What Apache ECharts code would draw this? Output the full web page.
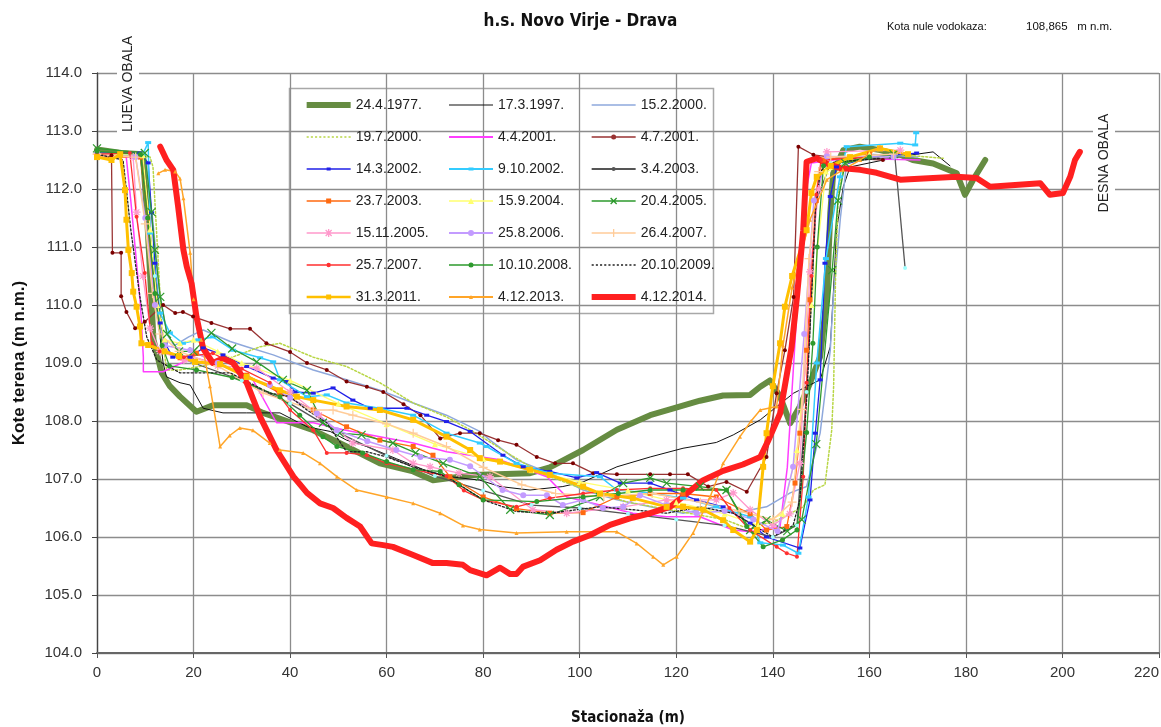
<!DOCTYPE html>
<html><head><meta charset="utf-8">
<script src="https://cdn.jsdelivr.net/npm/echarts@6/dist/echarts.min.js"></script>
<style>html,body{margin:0;padding:0;background:#fff}#c{width:1161px;height:727px}</style>
</head><body><div id="c"></div>
<script>
const names = ['24.4.1977.','17.3.1997.','15.2.2000.','19.7.2000.','4.4.2001.','4.7.2001.','14.3.2002.','9.10.2002.','3.4.2003.','23.7.2003.','15.9.2004.','20.4.2005.','15.11.2005.','25.8.2006.','26.4.2007.','25.7.2007.','10.10.2008.','20.10.2009.','31.3.2011.','4.12.2013.','4.12.2014.'];

const d1977 = [[0,112.68],[5,112.62],[9.5,112.6],[10.4,111.5],[11.7,109.4],[13.4,108.83],[15.1,108.6],[17.2,108.42],[20.6,108.16],[24,108.27],[31,108.27],[34.4,108.14],[44.8,107.84],[51.7,107.56],[58.6,107.27],[65.5,107.13],[69.6,106.98],[77.9,107.07],[89.7,107.1],[93.8,107.2],[100.7,107.5],[107.7,107.85],[114.6,108.1],[118.7,108.2],[124.9,108.35],[129.7,108.44],[135.3,108.45],[137.4,108.59],[139.4,108.7],[141.5,108.42],[143.6,107.96],[145.6,108.25],[147.7,108.65],[149.8,109.11],[151.2,110.14],[151.9,111.58],[152.5,112.27],[154.6,112.67],[158,112.73],[162.2,112.67],[166.4,112.59],[169,112.5],[173.2,112.44],[178.1,112.27],[179.8,111.9],[181.5,112.16],[184,112.5]];
const d1997 = [[0,112.62],[9.5,112.58],[10.5,111.8],[12,110.2],[13.7,109.0],[14.4,108.76],[17.2,108.66],[19.3,108.62],[22,108.22],[26.1,108.14],[31,108.14],[37.9,108.14],[43.5,107.9],[48.3,107.82],[51.7,107.67],[55.9,107.56],[62,107.35],[68,107.15],[73.1,107.04],[79.3,106.98],[83.5,106.87],[89.7,106.81],[96.5,106.87],[100.7,106.95],[107.7,107.21],[114.6,107.38],[121.4,107.53],[128.3,107.63],[131.8,107.76],[137.4,108.02],[144.3,108.48],[149.8,108.71],[151.9,109.28],[152.5,110.14],[153.2,111.29],[154.6,112.04],[156,112.38],[166.4,112.56],[173.2,112.64],[176.7,112.4]];
const d2000a = [[0,112.62],[10,112.58],[11.5,111.5],[13,110.2],[14.5,109.5],[16,109.3],[19,109.45],[22,109.57],[27.6,109.37],[31,109.28],[36.5,109.14],[44.8,108.88],[51.7,108.71],[58.6,108.53],[65.5,108.31],[72.4,108.1],[79.3,107.82],[81.4,107.67],[86.9,107.33],[93.8,107.1],[100.7,106.81],[107.7,106.64],[114.6,106.52],[121.4,106.41],[124.9,106.47],[128.3,106.52],[131.8,106.41],[138.7,106.52],[143.6,106.76],[147,106.87],[149.8,107.79],[151.9,109.22],[152.5,110.09],[154,111.5],[155.3,112.45],[160,112.6],[170,112.55]];
const d2000b = [[0,112.6],[11,112.55],[11.6,112.38],[12.7,110.72],[13.5,109.5],[14.4,108.88],[17.2,108.88],[22,108.95],[28,109.1],[33.8,109.28],[37.9,109.34],[44.8,109.1],[51.7,108.94],[58.6,108.66],[65.5,108.31],[72.4,108.07],[77.9,107.82],[85,107.45],[92,107.1],[100,106.85],[110,106.6],[120,106.45],[130,106.3],[133.8,106.18],[140,106.25],[146.3,106.52],[148.4,106.81],[150.8,106.9],[152.2,107.84],[152.6,108.6],[153,110.5],[153.6,111.98],[155,112.45],[165,112.6],[175.3,112.53]];
const d2001a = [[0,112.6],[6,112.6],[7,111.8],[9,110.0],[9.6,109.1],[9.6,108.85],[13.7,108.85],[20,109.1],[26,108.95],[32.3,108.71],[37.2,107.97],[44.8,107.97],[51,107.85],[58.6,107.73],[65.5,107.62],[72.4,107.47],[83.5,107.33],[93.2,107.04],[97.3,106.69],[104.2,106.55],[111,106.41],[118,106.35],[124.9,106.35],[131.8,106.12],[135.3,106.09],[141.5,106.18],[143,107.2],[145,109.91],[146.5,111.8],[148,112.45],[155.3,112.53],[170.5,112.5]];
const d2001b = [[0,112.6],[3,112.58],[3.2,110.9],[5,110.9],[5,110.15],[6.1,109.88],[7.9,109.6],[9.9,109.71],[13.7,110.0],[16.2,109.86],[17.8,109.88],[19.9,109.8],[23.7,109.69],[27.6,109.59],[31.7,109.59],[35.1,109.34],[40,109.19],[43.5,109.0],[47.6,108.88],[51.7,108.68],[55.9,108.59],[59.3,108.5],[63.5,108.29],[67,108.1],[71.1,107.7],[75.2,107.79],[79.3,107.79],[83.1,107.67],[86.9,107.59],[91.1,107.38],[94.9,107.27],[98.6,107.27],[102.8,107.1],[107.7,107.08],[114.6,107.08],[118.7,107.08],[122.4,107.08],[126.6,106.87],[130.4,106.95],[134.6,106.78],[138.7,107.38],[140.8,108.48],[142.5,109.22],[144.3,110.14],[145.3,112.73],[148.4,112.59],[151.2,112.56],[162.8,112.5]];
const d2002a = [[0,112.62],[8.9,112.62],[10.6,112.45],[11.3,111.59],[12,110.72],[13.1,109.69],[14.1,109.34],[15.7,109.1],[19.3,109.1],[22,109.26],[26.1,109.14],[31,108.94],[36.5,108.74],[39.3,108.68],[41,108.5],[44.8,108.48],[48.9,108.57],[53,108.36],[56.6,108.22],[64.2,108.22],[68.3,108.1],[72.4,107.99],[77.3,107.82],[84.1,107.41],[88.3,107.21],[93.8,107.13],[99.4,107.02],[103.5,107.11],[108.4,106.93],[114.6,106.93],[118.7,106.81],[124.2,106.64],[129.7,106.52],[135.3,106.24],[138.7,106.0],[145.6,105.81],[147.7,106.64],[148.8,107.79],[149.8,108.71],[150.8,110.72],[151.9,111.87],[153.2,112.38],[160,112.55],[169.8,112.62]];
const d2002b = [[0,112.6],[9.5,112.6],[10.6,112.8],[11,111.24],[13.1,109.86],[15.1,109.52],[17.8,109.34],[21,109.4],[24,109.45],[28.2,109.22],[33.8,109.09],[36.5,109.02],[37.9,108.71],[43.5,108.42],[47.6,108.45],[51.7,108.31],[58.6,108.22],[65.5,108.1],[72.4,107.79],[79.3,107.62],[80.7,107.56],[86.9,107.27],[93.8,107.1],[104.2,107.04],[107.7,106.81],[114.6,106.76],[121.4,106.67],[128.3,106.52],[135.3,106.35],[137.4,105.9],[142.1,105.86],[145.3,105.72],[147.4,106.69],[149.1,109.0],[151,110.8],[153.9,112.21],[155.3,112.73],[166.4,112.79],[169.5,112.76],[169.7,112.97]];
const d2003a = [[0,112.6],[9,112.55],[12,110.5],[14,109.2],[20,109.0],[30,108.7],[40,108.3],[50,107.8],[60,107.4],[70,107.05],[80,106.8],[90,106.55],[100,106.5],[110,106.4],[120,106.3],[130,106.2],[140,106.0],[145,106.2],[147,108.5],[149,111.8],[152,112.45],[165.3,112.55],[167.4,110.64]];
const d2003b = [[0,112.55],[9,112.55],[10.5,111.5],[12,110.0],[14,109.2],[17.2,109.09],[20.6,109.17],[25,109.0],[31,108.79],[37.9,108.48],[44.8,108.19],[51.7,107.9],[58.6,107.67],[65.5,107.56],[69.6,107.41],[73.1,107.04],[80,106.69],[86.9,106.49],[93.8,106.41],[100.7,106.42],[107.7,106.69],[114.6,106.75],[121.4,106.75],[128.3,106.69],[135.3,106.4],[138.7,106.12],[142.9,106.18],[144.6,106.93],[145.6,107.79],[147,109.22],[147.7,110.09],[149,111.8],[150.5,112.5],[160,112.6]];
const d2004 = [[0,112.6],[9.5,112.58],[11,111.3],[12.5,110.0],[14,109.4],[17.2,109.34],[20,109.4],[25,109.2],[30,109.0],[40,108.7],[50,108.3],[60,107.95],[70,107.6],[80,107.35],[90,107.15],[100,106.95],[110,106.8],[120,106.6],[130,106.4],[137,106.2],[142,106.4],[145,107.5],[148,110],[151,112.3],[160,112.6]];
const d2005a = [[0,112.7],[9.9,112.62],[11.3,111.6],[12,110.95],[13.1,110.14],[14.5,109.5],[17,109.2],[20,109.2],[23.7,109.52],[28,109.25],[33.1,109.02],[38.5,108.71],[43.5,108.53],[46.8,107.97],[50.3,107.79],[54.8,107.76],[61.3,107.62],[66,107.45],[71.7,107.27],[79.3,107.04],[85.6,106.47],[93.8,106.38],[104.2,106.69],[109,106.93],[114.6,107.02],[118,106.93],[124.9,106.87],[130.4,106.81],[135.3,106.12],[138.7,106.29],[143,106.1],[146,106.3],[149,107.6],[152.3,110.6],[153.5,111.8],[155,112.45],[165,112.6]];
const d2005b = [[0,112.6],[7.5,112.55],[8.2,111.6],[9.5,110.5],[11,109.6],[13,109.2],[18,109.05],[25,108.95],[33.1,108.91],[40,108.5],[46,108.1],[53,107.62],[61.3,107.5],[65.5,107.27],[69,107.21],[75,107.1],[81.4,107.04],[90.3,106.47],[97.3,106.41],[109,106.52],[118,106.64],[128.3,106.64],[131.8,106.76],[135.3,106.47],[140,106.2],[143.5,106.4],[145.6,107.27],[147.7,110.57],[149.5,112.0],[151.2,112.64],[166.4,112.67]];
const d2006 = [[0,112.6],[8,112.55],[10,111.5],[12,110.0],[14,109.3],[19.3,109.22],[25,109.0],[31,108.76],[35.8,108.62],[40,108.4],[45.5,108.13],[49.7,107.84],[56,107.65],[62,107.5],[67,107.38],[73.1,107.33],[77.3,107.22],[84,106.81],[88.3,106.72],[93.2,106.72],[96.5,106.55],[100.7,106.64],[104.8,106.5],[109,106.52],[112.5,106.72],[118,106.55],[124.2,106.41],[130,106.45],[136,106.3],[141,106.1],[144.2,107.21],[146.5,109.5],[148.5,111.8],[151.2,112.56],[165,112.55]];
const d2007a = [[0,112.6],[8,112.55],[10,111.4],[11.5,110.2],[13,109.5],[17,109.2],[25,108.95],[34.4,108.48],[44.8,108.19],[48.9,108.19],[53,108.1],[60,107.95],[65.5,107.79],[72.4,107.56],[80,107.2],[88,106.9],[95,106.75],[105,106.7],[115,106.75],[125,106.6],[133,106.45],[140,106.3],[144,106.6],[146,108.2],[147.5,110.8],[149.5,112.3],[152,112.55],[165,112.6]];
const d2007b = [[0,112.6],[6.8,112.62],[8.2,111.52],[9.9,110.55],[11.3,109.34],[13,109.2],[18,109.1],[24,109.17],[30,108.9],[35.8,108.66],[40,108.19],[44.8,107.84],[47.6,107.45],[51.7,107.45],[55.9,107.41],[60,107.27],[65.5,107.16],[72.4,107.05],[76,106.8],[80,106.64],[86.9,106.52],[93.8,106.67],[100.7,106.75],[107.7,106.81],[114.6,106.84],[121.4,106.84],[128.3,106.81],[131,106.5],[135.3,106.12],[140.8,105.83],[142.9,105.72],[145,105.66],[146.3,107.04],[147,108.66],[148,110.5],[149,111.9],[150,112.5],[160,112.55]];
const d2008 = [[0,112.65],[9,112.6],[10.5,111.5],[12,110.2],[13.5,109.3],[15,108.95],[20.6,108.88],[28,108.75],[37.9,108.42],[42,108.1],[46.8,107.73],[49.7,107.56],[55,107.45],[60,107.3],[65.5,107.16],[71.1,107.13],[75,106.9],[80,106.64],[91.1,106.61],[100.7,106.69],[108,106.75],[114.6,106.81],[121.4,106.81],[130.4,106.81],[134.6,106.18],[138,105.83],[142,105.95],[145,106.12],[147,107.8],[148.3,109.34],[149.2,111.0],[150.5,112.4],[160,112.55]];
const d2009 = [[0,112.6],[5.4,112.5],[7,111.3],[8.9,110.14],[10.3,109.45],[12.4,109.05],[17.2,108.83],[27.6,108.83],[35.8,108.48],[40,108.42],[43.5,108.19],[47.6,107.97],[51.7,107.47],[55.9,107.47],[60,107.38],[65.5,107.21],[72.4,107.04],[80,106.64],[86.9,106.44],[93.8,106.41],[104.2,106.52],[111,106.47],[118,106.41],[124.9,106.52],[131.8,106.41],[135.3,106.24],[140,106.0],[144.2,106.2],[145.6,106.64],[147,108.36],[148,110.09],[148.8,111.59],[149.8,112.28],[151.2,112.45],[162.2,112.53]];
const d2011 = [[0,112.55],[3,112.5],[4.8,112.6],[5.8,111.98],[6.1,111.47],[6.5,110.95],[7.2,110.55],[7.5,110.23],[8.2,109.97],[8.9,109.63],[9.2,109.34],[10.6,109.31],[14,109.2],[17,109.12],[20.3,109.02],[25.5,108.98],[31,108.76],[37.9,108.53],[41.4,108.42],[44.8,108.36],[51.7,108.25],[58.6,108.19],[65.5,108.02],[72.4,107.73],[77.3,107.5],[79.3,107.36],[83.5,107.3],[89.7,107.16],[93.8,107.07],[100.7,106.87],[104.2,106.75],[111,106.67],[118,106.52],[121.4,106.52],[125.6,106.47],[129.7,106.29],[131.8,106.12],[135.3,105.92],[136.7,106.12],[138,107.21],[138.7,107.79],[140,108.6],[141.5,109.34],[142.5,109.97],[144,110.5],[147,111.29],[148,111.93],[149.1,112.21],[152,112.4],[156,112.55],[162.2,112.7],[168,112.6]];
const d2013 = [[12.7,112.27],[14.1,112.33],[16.2,112.3],[17.2,112.18],[17.9,111.84],[19.3,110.9],[20,110.1],[21.6,109.4],[23.4,108.6],[25.5,107.56],[27.5,107.75],[29.6,107.88],[32.3,107.84],[35.8,107.62],[37.9,107.5],[42.7,107.45],[46.2,107.27],[49.7,107.04],[53.8,106.81],[60,106.69],[65.5,106.58],[71.1,106.41],[75.8,106.2],[79.3,106.13],[86.9,106.07],[97.3,106.09],[107.7,106.09],[111.8,105.89],[115.2,105.66],[117.3,105.52],[120.1,105.66],[123.5,106.07],[127,106.69],[129.7,107.27],[133.2,107.73],[135.5,108.0],[137.4,108.19],[140.8,108.25],[142.1,109.3],[144,110.3],[147.7,111.47],[151.2,112.16],[154.5,112.33],[158.1,112.5],[162.2,112.73]];
const d2014 = [[13.1,112.73],[14.4,112.5],[15.8,112.33],[16.8,111.7],[17.9,110.95],[18.6,110.66],[19.6,110.37],[20.6,109.8],[22,109.25],[24,109.0],[26.1,109.08],[28.2,109.0],[31,108.66],[33.8,108.07],[37.2,107.5],[40.7,107.04],[43.5,106.76],[46.2,106.58],[48.9,106.5],[51.7,106.33],[54.5,106.18],[56.9,105.89],[59.3,105.86],[61.3,105.83],[65.5,105.69],[69.6,105.55],[72.4,105.55],[75.8,105.52],[77.3,105.43],[80.7,105.34],[83.5,105.47],[85.6,105.36],[86.9,105.36],[88.3,105.49],[91.8,105.6],[95.2,105.78],[98.6,105.92],[102.1,106.03],[106.3,106.21],[110.4,106.32],[114.6,106.41],[118.7,106.52],[122.2,106.75],[125.6,106.98],[129.7,107.14],[133.8,107.25],[137.4,107.38],[139.1,107.67],[141.5,108.13],[143.9,109.28],[145,110.14],[146.3,111.29],[147,112.47],[149.1,112.53],[151.1,112.44],[154,112.36],[158.1,112.33],[161.5,112.28],[166.4,112.16],[173.2,112.19],[178.1,112.21],[182.2,112.19],[185,112.04],[195.4,112.1],[197.4,111.9],[200.1,111.93],[201.6,112.21],[202.6,112.5],[203.6,112.64]];

const xTicks = [0,20,40,60,80,100,120,140,160,180,200,220];
const yTicks = [104,105,106,107,108,109,110,111,112,113,114];

const SANS = "'Liberation Sans', Arial, sans-serif";
const COND = "'DejaVu Sans Condensed', 'Liberation Sans', sans-serif";
const X = 'path://M0,0L10,10M10,0L0,10';
const AST = 'path://M5,0L5,10M0,5L10,5M1.5,1.5L8.5,8.5M8.5,1.5L1.5,8.5';
const PLUS = 'path://M5,0L5,10M0,5L10,5';

// legend icon paths (44 wide, centred on y=7)
const W = 44;
function lineRect(t) { const a = 7 - t / 2, b = 7 + t / 2; return `M0,${a}L${W},${a}L${W},${b}L0,${b}Z`; }
function dotted(t) { let p = ''; const a = 7 - t / 2, b = 7 + t / 2; for (let x = 0; x < W; x += 4) { p += `M${x},${a}L${x+2},${a}L${x+2},${b}L${x},${b}Z`; } return p; }
const mCircle = r => `M${22-r},7A${r},${r},0,1,1,${22+r},7A${r},${r},0,1,1,${22-r},7Z`;
const mRect = (w, h) => `M${22-w/2},${7-h/2}L${22+w/2},${7-h/2}L${22+w/2},${7+h/2}L${22-w/2},${7+h/2}Z`;
const mTri = s => `M22,${7-s/2}L${22+s/2},${7+s/2}L${22-s/2},${7+s/2}Z`;
const sLine = `M0,7L${W},7`;
const sX = 'M19,4L25,10M25,4L19,10';
const sAst = 'M22,3L22,11M18,7L26,7M19,4L25,10M25,4L19,10';
const sPlus = 'M22,3L22,11M18,7L26,7';

const styles = [
  {color:'#668C42', width:6, symbol:'none', icon: lineRect(6)},
  {color:'#111111', width:1, symbol:'none', icon: lineRect(1.2)},
  {color:'#8EA8DC', width:1.5, symbol:'none', icon: lineRect(1.5)},
  {color:'#B8D645', width:1.5, type:[2,2], symbol:'none', icon: dotted(1.6)},
  {color:'#FF3DFF', width:1.5, symbol:'none', icon: lineRect(2)},
  {color:'#993333', width:1.3, symbol:'circle', size:4, mcolor:'#7A0000', icon: lineRect(1.5) + mCircle(2.5)},
  {color:'#2020E8', width:1.3, symbol:'rect', size:[5,3], icon: lineRect(1.5) + mRect(4,3)},
  {color:'#33CCFF', width:1.5, symbol:'rect', size:[6,3], icon: lineRect(2) + mRect(5,3)},
  {color:'#555555', width:1.3, symbol:'circle', size:4, mcolor:'#A0FFFF', icon: lineRect(1.8) + mCircle(2)},
  {color:'#FF6A10', width:1.3, symbol:'rect', size:5, icon: lineRect(1.5) + mRect(5,5)},
  {color:'#FFFF70', width:1.3, symbol:'triangle', size:6, icon: lineRect(1.5) + mTri(6)},
  {color:'#2E9A2E', width:1.3, symbol:X, size:8, stroke:true, sicon: sLine + sX},
  {color:'#FF99CC', width:1.3, symbol:AST, size:8, stroke:true, sicon: sLine + sAst},
  {color:'#C39BFF', width:1.5, symbol:'circle', size:6, icon: lineRect(2) + mCircle(3)},
  {color:'#FFCC99', width:1.5, symbol:PLUS, size:9, stroke:true, sicon: sLine + sPlus},
  {color:'#FF3030', width:1.3, symbol:'circle', size:4, icon: lineRect(1.5) + mCircle(2.2)},
  {color:'#2E9A2E', width:1.3, symbol:'circle', size:5, icon: lineRect(1.5) + mCircle(2.5)},
  {color:'#222222', width:1.3, type:[2,2], symbol:'none', icon: dotted(1.4)},
  {color:'#FFC000', width:3, symbol:'rect', size:6, icon: lineRect(2.5) + mRect(5,5)},
  {color:'#FFA528', width:1.5, symbol:'triangle', size:4, icon: lineRect(2) + mTri(4)},
  {color:'#FF2020', width:6, symbol:'none', icon: lineRect(6)}
];
const datasets = [d1977,d1997,d2000a,d2000b,d2001a,d2001b,d2002a,d2002b,d2003a,d2003b,d2004,d2005a,d2005b,d2006,d2007a,d2007b,d2008,d2009,d2011,d2013,d2014];

const series = names.map((name, i) => {
  const o = styles[i];
  return {
    name: name, type: 'line', data: datasets[i], animation: false,
    showSymbol: o.symbol !== 'none', symbol: o.symbol, symbolSize: o.size || 4,
    lineStyle: { color: o.color, width: o.width, type: o.type || 'solid', cap: 'round', join: 'round' },
    itemStyle: o.stroke ? { color: o.color, borderColor: o.color, borderWidth: 1.2 }
                        : { color: o.mcolor || o.color, borderWidth: 0 },
    emphasis: { disabled: true }, silent: true
  };
});

function legendItem(i) {
  const o = styles[i];
  if (o.stroke) {
    return { name: names[i], icon: 'path://' + o.sicon,
      itemStyle: { color: o.color, borderColor: o.color, borderWidth: 1.3, borderType: 'solid' } };
  }
  return { name: names[i], icon: 'path://' + o.icon,
    itemStyle: { color: o.color, borderWidth: 0, borderColor: o.color } };
}
function col(c) { const r = []; for (let i = c; i < names.length; i += 3) r.push(legendItem(i)); return r; }
const legendBase = { orient: 'vertical', top: 93, itemWidth: W, itemHeight: 14, itemGap: 18, symbolKeepAspect: true,
  textStyle: { fontSize: 14, fontFamily: SANS, color: '#222', lineHeight: 14 }, selectedMode: false };

const chart = echarts.init(document.getElementById('c'), null, { renderer: 'canvas' });
chart.setOption({
  animation: false,
  backgroundColor: '#fff',
  title: { text: 'h.s. Novo Virje - Drava', left: 'center', top: 8,
    textStyle: { fontSize: 17, fontWeight: 'bold', fontFamily: COND, color: '#111' } },
  grid: { left: 97, right: 2, top: 73, bottom: 74, containLabel: false, outerBoundsMode: 'none' },
  xAxis: { type: 'value', min: 0, max: 220, interval: 20,
    name: 'Stacionaža (m)', nameLocation: 'middle', nameGap: 58,
    nameTextStyle: { fontSize: 15, fontWeight: 'bold', fontFamily: COND, color: '#111' },
    axisLine: { show: true, lineStyle: { color: '#666', width: 2 } },
    axisTick: { show: true, length: 5, lineStyle: { color: '#555' } },
    axisLabel: { fontSize: 15, fontFamily: SANS, color: '#333', margin: 12, alignMaxLabel: 'right' },
    splitLine: { show: true, lineStyle: { color: '#8C8C8C', width: 1.3 } } },
  yAxis: { type: 'value', min: 104, max: 114, interval: 1,
    name: 'Kote terena (m n.m.)', nameLocation: 'middle', nameGap: 69, nameRotate: 90,
    nameTextStyle: { fontSize: 17, fontWeight: 'bold', fontFamily: SANS, color: '#111' },
    axisLine: { show: true, lineStyle: { color: '#444', width: 1.3 } },
    axisTick: { show: true, length: 5, lineStyle: { color: '#444' } },
    axisLabel: { fontSize: 15, fontFamily: SANS, color: '#333', margin: 15, formatter: v => v.toFixed(1) },
    splitLine: { show: true, lineStyle: { color: '#8C8C8C', width: 1.3 } } },
  legend: [
    Object.assign({}, legendBase, { left: 301, data: col(0) }),
    Object.assign({}, legendBase, { left: 444, data: col(1) }),
    Object.assign({}, legendBase, { left: 586, data: col(2) })
  ],
  graphic: [
    { type: 'rect', z: -1, shape: { x: 289.5, y: 88.5, width: 424, height: 225 },
      style: { fill: '#fff', stroke: '#A8A8A8', lineWidth: 1.5 }, silent: true },
    { type: 'text', x: 887, y: 21, silent: true,
      style: { text: 'Kota nule vodokaza:', fontSize: 11, fontFamily: SANS, fill: '#111' } },
    { type: 'text', x: 1026, y: 21, silent: true,
      style: { text: '108,865   m n.m.', fontSize: 11.5, fontFamily: SANS, fill: '#111' } },
    { type: 'text', x: 128, y: 84, rotation: Math.PI / 2, silent: true, z: 50,
      style: { text: 'LIJEVA OBALA', fontSize: 14, fontFamily: SANS, fill: '#222', align: 'center', verticalAlign: 'middle',
        backgroundColor: '#fff', padding: [4, 3] } },
    { type: 'text', x: 1104, y: 163, rotation: Math.PI / 2, silent: true, z: 50,
      style: { text: 'DESNA OBALA', fontSize: 14, fontFamily: SANS, fill: '#222', align: 'center', verticalAlign: 'middle',
        backgroundColor: '#fff', padding: [4, 3] } }
  ],
  series: series
});
</script></body></html>
